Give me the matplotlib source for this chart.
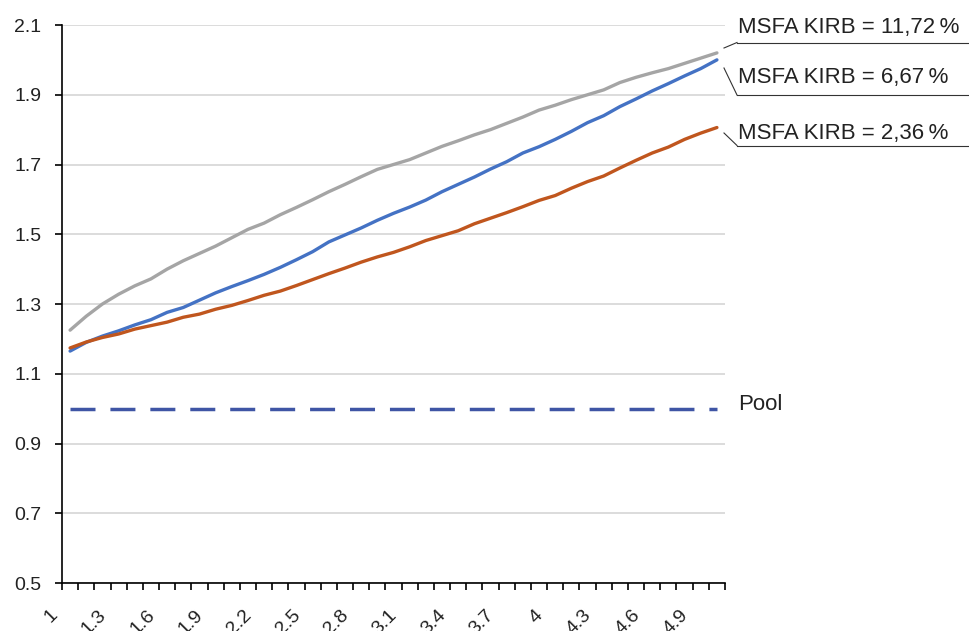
import matplotlib.pyplot as plt
from matplotlib.lines import Line2D
from matplotlib.transforms import ScaledTranslation

plt.rcParams['font.family'] = ['Liberation Sans', 'DejaVu Sans']

# categories on the x axis (1.0 ... 5.0)
categories = ['1', '1.1', '1.2', '1.3', '1.4', '1.5', '1.6', '1.7', '1.8', '1.9',
              '2', '2.1', '2.2', '2.3', '2.4', '2.5', '2.6', '2.7', '2.8', '2.9',
              '3', '3.1', '3.2', '3.3', '3.4', '3.5', '3.6', '3.7', '3.8', '3.9',
              '4', '4.1', '4.2', '4.3', '4.4', '4.5', '4.6', '4.7', '4.8', '4.9', '5']

kirb_1172 = [1.225, 1.265, 1.300, 1.328, 1.352, 1.372, 1.400, 1.424, 1.445, 1.466,
             1.490, 1.514, 1.532, 1.556, 1.577, 1.599, 1.622, 1.643, 1.665, 1.686,
             1.700, 1.714, 1.733, 1.752, 1.768, 1.785, 1.800, 1.818, 1.836, 1.856,
             1.870, 1.886, 1.900, 1.914, 1.935, 1.950, 1.963, 1.975, 1.990, 2.005, 2.020]

kirb_667 = [1.165, 1.190, 1.208, 1.223, 1.240, 1.255, 1.276, 1.290, 1.311, 1.332,
            1.350, 1.367, 1.385, 1.405, 1.427, 1.450, 1.478, 1.498, 1.518, 1.540,
            1.560, 1.578, 1.598, 1.622, 1.643, 1.664, 1.687, 1.708, 1.733, 1.751,
            1.772, 1.795, 1.820, 1.840, 1.866, 1.888, 1.911, 1.932, 1.954, 1.975, 2.000]

kirb_236 = [1.174, 1.191, 1.204, 1.214, 1.228, 1.238, 1.248, 1.262, 1.271, 1.285,
            1.296, 1.310, 1.325, 1.337, 1.353, 1.370, 1.387, 1.403, 1.420, 1.435,
            1.448, 1.464, 1.482, 1.496, 1.510, 1.530, 1.546, 1.562, 1.579, 1.597,
            1.611, 1.632, 1.651, 1.667, 1.690, 1.712, 1.733, 1.750, 1.772, 1.790, 1.806]

pool = [1.0] * len(categories)

labels = ['MSFA KIRB = 11,72\u2009%', 'MSFA KIRB = 6,67\u2009%', 'MSFA KIRB = 2,36\u2009%']

W, H = 969, 631
fig = plt.figure(figsize=(W / 100, H / 100), dpi=100)
ax = fig.add_axes([62 / W, 1 - 583 / H, (725 - 62) / W, (583 - 25) / H])

x = list(range(len(categories)))
ax.plot(x, kirb_1172, color='#A5A5A5', lw=2.4, solid_capstyle='round')
ax.plot(x, kirb_667, color='#4472C4', lw=2.4, solid_capstyle='round')
ax.plot(x, kirb_236, color='#C0561E', lw=2.4, solid_capstyle='round')
ax.plot(x, pool, color='#3F55A5', lw=2.5, dashes=(7.2, 4.3))

ax.set_xlim(-0.5, len(categories) - 0.5)
ax.set_ylim(0.5, 2.1)
ax.set_yticks([0.5, 0.7, 0.9, 1.1, 1.3, 1.5, 1.7, 1.9, 2.1])
ax.set_yticklabels(['0.5', '0.7', '0.9', '1.1', '1.3', '1.5', '1.7', '1.9', '2.1'])
ax.yaxis.grid(True, color='#D9D9D9', lw=1.3)
ax.set_axisbelow(True)

ax.set_xticks(x[::3])
ax.set_xticklabels(categories[::3], rotation=45, ha='right', va='top',
                   rotation_mode='anchor')
ax.set_xticks([i - 0.5 for i in range(len(categories) + 1)], minor=True)
ax.tick_params(axis='x', which='major', length=0, pad=17, labelsize=14, labelcolor='#222222')
ax.tick_params(axis='x', which='minor', length=5, width=1.2, color='black')
ax.tick_params(axis='y', length=5, width=1.2, labelsize=14, pad=10, labelcolor='#222222')
shift = ScaledTranslation(-21 / 100, 0, fig.dpi_scale_trans)
for lbl in ax.get_xticklabels():
    lbl.set_transform(lbl.get_transform() + shift)

for s in ['top', 'right']:
    ax.spines[s].set_visible(False)
for s in ['left', 'bottom']:
    ax.spines[s].set_linewidth(1.2)
    ax.spines[s].set_color('black')


def px(xp, yp):
    return xp / W, 1 - yp / H


# callouts on the right
callouts = [
    (labels[0], 28, (724, 48), 42.5),
    (labels[1], 77, (724, 68), 95),
    (labels[2], 133, (724, 133), 145.5),
]
for text, ty, start, uy in callouts:
    fig.text(*px(738, ty), text, fontsize=16, va='center', ha='left', color='#222222')
    fig.add_artist(Line2D([start[0] / W, 737 / W], [1 - start[1] / H, 1 - uy / H],
                          color='#333333', lw=0.8))
    fig.add_artist(Line2D([737 / W, 968 / W], [1 - uy / H, 1 - uy / H],
                          color='#333333', lw=0.8))

fig.text(*px(738, 405), 'Pool', fontsize=16, va='center', ha='left', color='#222222')

fig.savefig('out.png', dpi=100)
